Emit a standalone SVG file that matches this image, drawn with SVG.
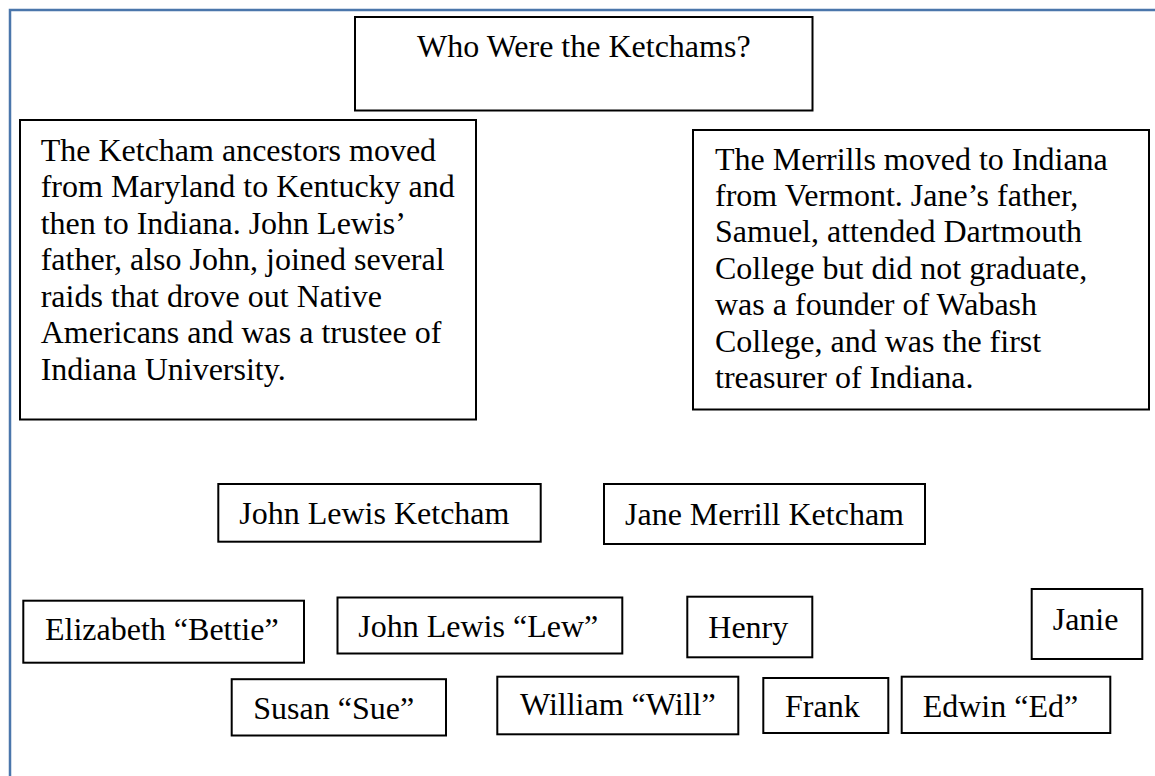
<svg xmlns="http://www.w3.org/2000/svg" width="1155" height="776" viewBox="0 0 1155 776">
  <style>
    .box { fill: #ffffff; stroke: #000000; stroke-width: 2; }
    .t { font-family: "Liberation Serif", "Times New Roman", serif; font-size: 32px; fill: #000000; }
    .frame { fill: none; stroke: #4a76ab; stroke-width: 2.5; }
  </style>
  <rect width="1155" height="776" fill="#ffffff"/>
  <rect class="frame" x="10" y="10" width="1200" height="820"/>

  <g id="title">
    <rect class="box" x="355" y="17" width="457.5" height="93.5"/>
    <text class="t" x="417" y="56.5">Who Were the Ketchams?</text>
  </g>

  <g id="ketcham-ancestors">
    <rect class="box" x="20" y="120" width="456" height="299.5"/>
    <text class="t">
      <tspan x="40.7" y="160.7">The Ketcham ancestors moved</tspan>
      <tspan x="40.7" y="197">from Maryland to Kentucky and</tspan>
      <tspan x="40.7" y="233.5">then to Indiana. John Lewis’</tspan>
      <tspan x="40.7" y="270">father, also John, joined several</tspan>
      <tspan x="40.7" y="306.5">raids that drove out Native</tspan>
      <tspan x="40.7" y="343">Americans and was a trustee of</tspan>
      <tspan x="40.7" y="379.5">Indiana University.</tspan>
    </text>
  </g>

  <g id="merrills">
    <rect class="box" x="693" y="130" width="456" height="279.5"/>
    <text class="t">
      <tspan x="715" y="169.5">The Merrills moved to Indiana</tspan>
      <tspan x="715" y="206">from Vermont. Jane’s father,</tspan>
      <tspan x="715" y="242">Samuel, attended Dartmouth</tspan>
      <tspan x="715" y="278.5">College but did not graduate,</tspan>
      <tspan x="715" y="315">was a founder of Wabash</tspan>
      <tspan x="715" y="351.5">College, and was the first</tspan>
      <tspan x="715" y="388">treasurer of Indiana.</tspan>
    </text>
  </g>

  <g id="john-lewis-ketcham">
    <rect class="box" x="218.3" y="484" width="322.4" height="57.7"/>
    <text class="t" x="239.3" y="524">John Lewis Ketcham</text>
  </g>

  <g id="jane-merrill-ketcham">
    <rect class="box" x="604" y="484" width="321" height="60"/>
    <text class="t" x="625" y="524.5">Jane Merrill Ketcham</text>
  </g>

  <g id="elizabeth">
    <rect class="box" x="23.3" y="600.7" width="280.7" height="62"/>
    <text class="t" x="45" y="640">Elizabeth “Bettie”</text>
  </g>

  <g id="john-lewis-lew">
    <rect class="box" x="337.5" y="597.5" width="284.8" height="56"/>
    <text class="t" x="358.3" y="637.3">John Lewis “Lew”</text>
  </g>

  <g id="henry">
    <rect class="box" x="687.3" y="596.7" width="125" height="60.6"/>
    <text class="t" x="708.3" y="638.3">Henry</text>
  </g>

  <g id="janie">
    <rect class="box" x="1031.7" y="589" width="110.6" height="70"/>
    <text class="t" x="1052.7" y="630">Janie</text>
  </g>

  <g id="susan">
    <rect class="box" x="231.7" y="679.2" width="214.3" height="56.3"/>
    <text class="t" x="253.3" y="719">Susan “Sue”</text>
  </g>

  <g id="william">
    <rect class="box" x="497.3" y="676.7" width="241" height="57.6"/>
    <text class="t" x="520" y="715">William “Will”</text>
  </g>

  <g id="frank">
    <rect class="box" x="763.3" y="678" width="125" height="55"/>
    <text class="t" x="785" y="717.3">Frank</text>
  </g>

  <g id="edwin">
    <rect class="box" x="901.7" y="676.7" width="208.6" height="56.3"/>
    <text class="t" x="922.7" y="716.7">Edwin “Ed”</text>
  </g>

  <g id="connectors"></g>
</svg>
